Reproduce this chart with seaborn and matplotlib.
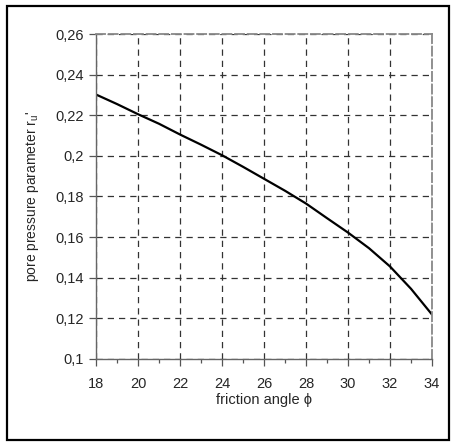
# friction angle vs pore pressure parameter

import pandas as pd
import matplotlib.pyplot as plt
import seaborn as sns
from matplotlib.patches import Rectangle
from matplotlib.ticker import MultipleLocator

# Data
friction_angle = [18, 19, 20, 21, 22, 23, 24, 25, 26, 27, 28, 29, 30, 31, 32, 33, 34]
pore_pressure = [0.2302, 0.2255, 0.2205, 0.2158, 0.2105, 0.2055, 0.2003, 0.1946, 0.1887,
                 0.1828, 0.1765, 0.1693, 0.1622, 0.1545, 0.1455, 0.1345, 0.1218]

x_ticks = [18, 20, 22, 24, 26, 28, 30, 32, 34]
y_ticks = [0.10, 0.12, 0.14, 0.16, 0.18, 0.20, 0.22, 0.24, 0.26]
y_tick_labels = ['0,1', '0,12', '0,14', '0,16', '0,18', '0,2', '0,22', '0,24', '0,26']

df = pd.DataFrame({'phi': friction_angle, 'ru': pore_pressure})

sns.set_style('white')
plt.rcParams['font.family'] = ['Liberation Sans', 'DejaVu Sans']
plt.rcParams['mathtext.default'] = 'regular'

fig = plt.figure(figsize=(4.51, 4.42), dpi=100)
ax = fig.add_axes([0.213, 0.188, 0.745, 0.735])

sns.lineplot(data=df, x='phi', y='ru', ax=ax, color='black', linewidth=1.6)

ax.set_xlim(18, 34)
ax.set_ylim(0.1, 0.26)
ax.set_xticks(x_ticks)
ax.set_yticks(y_ticks)
ax.set_yticklabels(y_tick_labels)
ax.xaxis.set_minor_locator(MultipleLocator(1))

ax.grid(True, which='major', color='#333333', linestyle=(0, (5, 4)), linewidth=0.9)
ax.tick_params(axis='both', which='major', direction='out', length=5, width=0.9,
               color='#555555', labelsize=10.5, bottom=True, left=True)
ax.tick_params(axis='y', which='major', pad=4)
ax.tick_params(axis='x', which='major', pad=8)
ax.tick_params(axis='x', which='minor', direction='out', length=3, width=0.9,
               color='#555555', bottom=True)

for side in ['top', 'right']:
    ax.spines[side].set_color('#888888')
    ax.spines[side].set_linestyle((0, (5, 2)))
    ax.spines[side].set_linewidth(1.3)
for side in ['left', 'bottom']:
    ax.spines[side].set_color('#666666')
    ax.spines[side].set_linewidth(1.0)

ax.set_xlabel('friction angle \u03d5', fontsize=10.5)
ax.set_ylabel("pore pressure parameter r$_u$'", fontsize=10)
ax.xaxis.set_label_coords(0.5, -0.105)
ax.yaxis.set_label_coords(-0.165, 0.5)

# outer frame around the figure
fig.patches.append(Rectangle((0.0155, 0.0045), 0.98, 0.9815, transform=fig.transFigure,
                             fill=False, edgecolor='black', linewidth=1.6))

fig.savefig('out.png', dpi=100)
